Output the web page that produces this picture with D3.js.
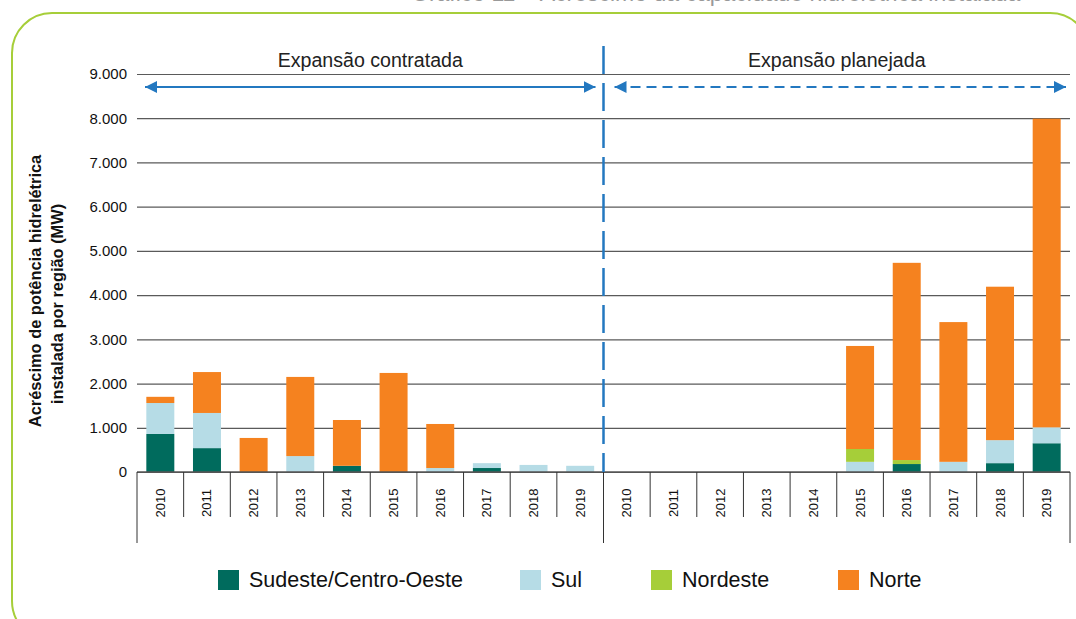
<!DOCTYPE html>
<html>
<head>
<meta charset="utf-8">
<script src="https://cdn.jsdelivr.net/npm/d3@7"></script>
<style>
  body { margin: 0; background: #fff; }
  svg { display: block; font-family: "Liberation Sans", Arial, sans-serif; }
</style>
</head>
<body>
<div id="chart"></div>
<script>
// years for each block
const years = ["2010", "2011", "2012", "2013", "2014", "2015", "2016", "2017", "2018", "2019"];
const blocks = ["Expansão contratada", "Expansão planejada"];

// MW by region, first 10 = contratada, last 10 = planejada
const sudeste = [860, 540, 0, 0, 140, 0, 0, 90, 0, 0,   0, 0, 0, 0, 0, 0, 180, 0, 200, 650];
const sul = [700, 795, 0, 360, 0, 0, 90, 110, 160, 140,   0, 0, 0, 0, 0, 230, 0, 230, 520, 360];
const nordeste = [0, 0, 0, 0, 0, 0, 0, 0, 0, 0,   0, 0, 0, 0, 0, 290, 90, 0, 0, 0];
const norte = [140, 925, 770, 1790, 1036, 2240, 996, 0, 0, 0,   0, 0, 0, 0, 0, 2330, 4460, 3160, 3470, 6980];

const seriesNames = ["Sudeste/Centro-Oeste", "Sul", "Nordeste", "Norte"];
const seriesColors = ["#006b5d", "#b6dce6", "#a6ce39", "#f5821f"];
const yTicks = [0, 1000, 2000, 3000, 4000, 5000, 6000, 7000, 8000, 9000];

const width = 1076, height = 619;
const svg = d3.select("#chart").append("svg")
    .attr("width", width)
    .attr("height", height);

// green frame around the figure
svg.append("rect")
    .attr("x", 12).attr("y", 13)
    .attr("width", 1078).attr("height", 628)
    .attr("rx", 40)
    .attr("fill", "none")
    .attr("stroke", "#a6ce39")
    .attr("stroke-width", 2);

// title, cut off at the top edge like the source
svg.append("text")
    .attr("x", 411).attr("y", 1)
    .attr("font-size", 23)
    .attr("fill", "#999")
    .text("Gráfico 11 – Acréscimo da capacidade hidrelétrica instalada");

const plotL = 137, plotR = 1070, plotT = 74, plotB = 472;

const keys = [];
blocks.forEach((b, bi) => years.forEach(y => keys.push(bi + "-" + y)));

const rows = keys.map((k, i) => ({
    key: k,
    year: k.split("-")[1],
    "Sudeste/Centro-Oeste": sudeste[i],
    "Sul": sul[i],
    "Nordeste": nordeste[i],
    "Norte": norte[i]
}));

const x = d3.scaleBand()
    .domain(keys)
    .range([plotL, plotR])
    .paddingInner(0.4)
    .paddingOuter(0.2);

const y = d3.scaleLinear()
    .domain([0, 9000])
    .range([plotB, plotT]);

// gridlines + y labels
const yAxis = d3.axisLeft(y)
    .tickValues(yTicks)
    .tickSize(-(plotR - plotL))
    .tickPadding(10)
    .tickFormat(d => d3.format(",")(d).replace(/,/g, "."));

const gy = svg.append("g")
    .attr("transform", `translate(${plotL},0)`)
    .call(yAxis);
gy.select(".domain").remove();
gy.selectAll(".tick line").attr("stroke", "#5a5a5a").attr("stroke-width", 1.2);
gy.selectAll(".tick text")
    .attr("font-size", 15)
    .attr("fill", "#111")
    .attr("font-family", "Liberation Sans, Arial, sans-serif");

// stacked bars
const stack = d3.stack().keys(seriesNames);
const stacked = stack(rows);

svg.append("g").selectAll("g")
    .data(stacked)
    .enter().append("g")
    .attr("fill", (d, i) => seriesColors[i])
    .selectAll("rect")
    .data(d => d)
    .enter().append("rect")
    .attr("x", d => x(d.data.key))
    .attr("width", x.bandwidth())
    .attr("y", d => y(d[1]))
    .attr("height", d => y(d[0]) - y(d[1]));

// x axis line + category separators
svg.append("line")
    .attr("x1", plotL).attr("x2", plotR)
    .attr("y1", plotB).attr("y2", plotB)
    .attr("stroke", "#555").attr("stroke-width", 1.5);

const step = x.step();
const seps = d3.range(keys.length + 1);
svg.append("g").selectAll("line")
    .data(seps)
    .enter().append("line")
    .attr("x1", i => plotL + i * step)
    .attr("x2", i => plotL + i * step)
    .attr("y1", plotB)
    .attr("y2", i => (i % 10 === 0) ? 543 : 517)
    .attr("stroke", "#333")
    .attr("stroke-width", 1);

svg.append("g").selectAll("text")
    .data(rows)
    .enter().append("text")
    .attr("transform", d => `translate(${x(d.key) + x.bandwidth() / 2 + 4.5},503) rotate(-90)`)
    .attr("text-anchor", "middle")
    .attr("font-size", 13)
    .attr("fill", "#111")
    .text(d => d.year);

// y axis title
svg.append("text")
    .attr("transform", "translate(41,291) rotate(-90)")
    .attr("text-anchor", "middle")
    .attr("font-size", 16.4).attr("font-weight", "bold").attr("fill", "#111")
    .text("Acréscimo de potência hidrelétrica");
svg.append("text")
    .attr("transform", "translate(63,304) rotate(-90)")
    .attr("text-anchor", "middle")
    .attr("font-size", 16.4).attr("font-weight", "bold").attr("fill", "#111")
    .text("instalada por região (MW)");

// block labels and arrows
const mid = plotL + 10 * step;
const blue = "#2378c0";

svg.append("text")
    .attr("x", (plotL + mid) / 2).attr("y", 67)
    .attr("text-anchor", "middle").attr("font-size", 19.6).attr("fill", "#222")
    .text(blocks[0]);
svg.append("text")
    .attr("x", (mid + plotR) / 2).attr("y", 67)
    .attr("text-anchor", "middle").attr("font-size", 19.6).attr("fill", "#222")
    .text(blocks[1]);

const defs = svg.append("defs");
defs.append("marker")
    .attr("id", "ah")
    .attr("viewBox", "0 0 10 10")
    .attr("refX", 10).attr("refY", 5)
    .attr("markerWidth", 6).attr("markerHeight", 6)
    .attr("markerUnits", "strokeWidth")
    .attr("orient", "auto-start-reverse")
    .append("path")
    .attr("d", "M0,0 L10,5 L0,10 Z")
    .attr("fill", blue);

svg.append("line")
    .attr("x1", 145).attr("x2", mid - 8)
    .attr("y1", 87).attr("y2", 87)
    .attr("stroke", blue).attr("stroke-width", 2)
    .attr("marker-start", "url(#ah)")
    .attr("marker-end", "url(#ah)");

svg.append("line")
    .attr("x1", mid + 11).attr("x2", plotR - 4)
    .attr("y1", 87).attr("y2", 87)
    .attr("stroke", blue).attr("stroke-width", 2)
    .attr("stroke-dasharray", "10,6")
    .attr("marker-start", "url(#ah)")
    .attr("marker-end", "url(#ah)");

// divider between blocks
svg.append("line")
    .attr("x1", mid).attr("x2", mid)
    .attr("y1", 46).attr("y2", plotB)
    .attr("stroke", blue).attr("stroke-width", 2.5)
    .attr("stroke-dasharray", "28,9");

// legend
const legendX = [218, 520, 651, 838];
const lg = svg.append("g").selectAll("g")
    .data(seriesNames)
    .enter().append("g")
    .attr("transform", (d, i) => `translate(${legendX[i]},570)`);
lg.append("rect")
    .attr("width", 21).attr("height", 20)
    .attr("fill", (d, i) => seriesColors[i]);
lg.append("text")
    .attr("x", 31).attr("y", 17)
    .attr("font-size", 21.5).attr("fill", "#111")
    .text(d => d);
</script>
</body>
</html>
